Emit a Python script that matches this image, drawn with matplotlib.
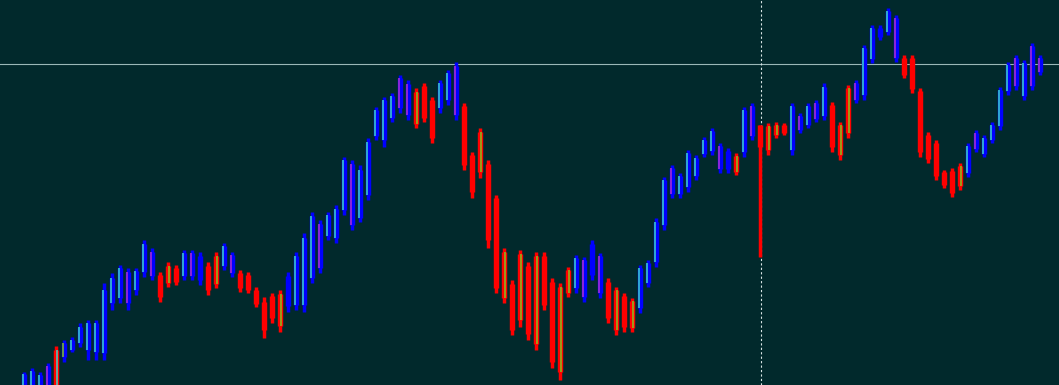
import numpy as np
import matplotlib
matplotlib.use("Agg")
import matplotlib.pyplot as plt

# chart levels (top of chart = 0, bottom = 385)
highs = [372, 368, 372, 363, 346, 340, 337, 323, 320, 320,
         283, 273, 265, 268, 268, 240, 248, 272, 262, 265,
         250, 250, 252, 262, 252, 243, 252, 270, 272, 287,
         297, 293, 290, 272, 252, 233, 212, 220, 212, 205,
         157, 160, 165, 138, 107, 97, 93, 75, 80, 88,
         83, 97, 80, 70, 62, 103, 152, 128, 160, 195,
         248, 280, 250, 262, 252, 252, 278, 283, 267, 255,
         257, 240, 253, 278, 287, 293, 298, 265, 260, 218,
         177, 165, 173, 150, 155, 137, 128, 143, 148, 153,
         107, 103, 125, 123, 122, 123, 103, 113, 103, 100,
         83, 102, 122, 85, 80, 45, 25, 25, 8, 15,
         55, 55, 88, 132, 140, 170, 168, 163, 143, 130,
         135, 122, 87, 62, 55, 60, 43, 55]
lows = [388, 388, 388, 388, 388, 362, 352, 347, 360, 360,
        360, 310, 303, 310, 295, 277, 280, 302, 287, 285,
        280, 280, 285, 295, 288, 270, 277, 292, 293, 307,
        338, 323, 332, 312, 310, 312, 283, 273, 240, 243,
        215, 230, 222, 200, 140, 147, 122, 113, 120, 128,
        122, 143, 113, 105, 120, 170, 198, 178, 248, 293,
        303, 335, 327, 340, 350, 310, 368, 380, 297, 293,
        302, 280, 298, 323, 335, 332, 332, 313, 287, 267,
        230, 198, 198, 192, 180, 157, 155, 173, 173, 175,
        157, 140, 257, 155, 138, 135, 155, 133, 128, 122,
        120, 152, 160, 138, 103, 100, 63, 40, 35, 62,
        78, 93, 157, 163, 180, 188, 197, 190, 177, 152,
        157, 143, 130, 95, 90, 100, 90, 75]
body_top = [374, 371, 375, 366, 350, 343, 340, 327, 323, 323,
            290, 278, 268, 272, 271, 244, 252, 275, 266, 268,
            253, 253, 256, 266, 256, 246, 255, 273, 275, 290,
            302, 296, 294, 276, 256, 238, 216, 224, 215, 209,
            160, 164, 170, 142, 110, 100, 96, 78, 84, 92,
            86, 100, 83, 73, 66, 106, 155, 132, 164, 198,
            252, 284, 254, 266, 256, 256, 282, 287, 270, 258,
            260, 244, 256, 282, 290, 296, 301, 268, 263, 222,
            180, 168, 176, 153, 158, 140, 131, 146, 151, 156,
            110, 106, 125, 126, 125, 125, 106, 116, 106, 103,
            87, 105, 125, 88, 83, 48, 28, 28, 11, 18,
            58, 58, 91, 135, 143, 172, 171, 166, 146, 133,
            138, 125, 90, 65, 58, 63, 46, 58]
body_bot = [385, 385, 385, 385, 385, 357, 350, 343, 350, 352,
            353, 303, 298, 303, 290, 272, 276, 297, 283, 282,
            276, 276, 280, 290, 284, 266, 273, 288, 290, 304,
            330, 318, 326, 306, 305, 305, 278, 268, 236, 238,
            210, 225, 218, 195, 136, 140, 118, 108, 115, 124,
            118, 138, 108, 100, 115, 165, 192, 172, 240, 288,
            298, 330, 320, 334, 344, 305, 362, 372, 293, 288,
            297, 275, 293, 318, 330, 327, 328, 308, 283, 262,
            225, 194, 194, 187, 176, 154, 151, 169, 169, 172,
            152, 136, 147, 150, 135, 133, 150, 130, 125, 119,
            116, 147, 155, 133, 100, 95, 59, 37, 32, 58,
            75, 89, 152, 159, 176, 185, 193, 186, 173, 149,
            154, 140, 126, 91, 86, 96, 86, 72]
# trend colour: B = up (blue), R = down (red)
trend = list("BBBBRBBBBB" "BBBBBBBRRR" "BBBRRBBRRR" "RRRBBBBBBB"
             "BBBBBBBBBR" "RRBBBRRRRR" "RRRRRRRRRB" "BBBRRRRBBB"
             "BBBBBBBBBR" "BBRRRRBBBB" "BRRRBBBBBB" "RRRRRRRRBB"
             "BBBBBBBB")
# inner line: c = cyan, m = magenta, y = green, - = none
accent = list("cccmcycccc" "cccmccm-y-" "cm--ycm---" "--y-cccmcc"
              "cmcccccmmy" "--ccm--y--" "y-y-y--yyc" "m-m-y-yccc"
              "cmcccccm-y" "cm-yy-cmcm" "c-yymcc-cm" "-------ycm"
              "ccccmcm"  "m")

horizontal_level = 64
cursor_index = 92

BG = "#01292c"
COLORS = {"B": "#0000ff", "R": "#ff0000"}
ACCENTS = {"c": "#3dd6c8", "m": "#b22fd0", "y": "#86c41e"}

fig = plt.figure(figsize=(10.59, 3.85), dpi=100, facecolor=BG)
ax = fig.add_axes([0, 0, 1, 1])
ax.set_facecolor(BG)

x = np.arange(len(highs))
for i in x:
    col = COLORS[trend[i]]
    ax.vlines(i, highs[i], lows[i], color=col, lw=2.5, zorder=2)
    ax.vlines(i, body_top[i], body_bot[i], color=col, lw=3.9, zorder=3)
    a = accent[i]
    if a in ACCENTS:
        shift = -0.12 if trend[i] == "B" else 0.12
        ax.vlines(i + shift, body_top[i], body_bot[i], color=ACCENTS[a],
                  lw=1.1, zorder=4)

ax.axhline(horizontal_level, color="#9ab8b8", lw=0.8, zorder=1)
ax.axvline(cursor_index + 0.12, color="#d8e4e4", lw=0.8, ls=(0, (2, 2)), zorder=1.5)

ax.set_xlim(-3, (1059 - 24) / 8)
ax.set_ylim(385, 0)
ax.axis("off")

fig.savefig("out.png", dpi=100, facecolor=BG)
